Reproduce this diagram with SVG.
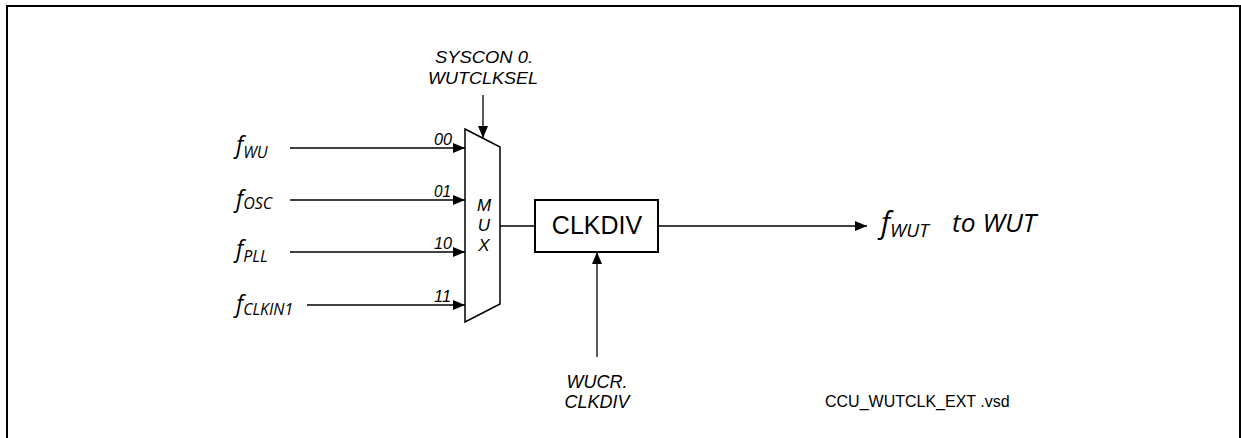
<svg xmlns="http://www.w3.org/2000/svg" width="1241" height="438" viewBox="0 0 1241 438">
<style>
.ln{stroke:#000;stroke-width:1.3;fill:none}
.lab{font-family:"Liberation Sans",Arial,sans-serif;font-style:italic;fill:#000}
.fl{font-family:"Open Sans","Liberation Sans",sans-serif;font-style:italic;fill:#000}
.box{fill:#fff;stroke:#000;stroke-width:2}
</style>
<defs>
<marker id="ah" viewBox="0 0 12 10" refX="12" refY="5" markerWidth="12" markerHeight="10" markerUnits="userSpaceOnUse" orient="auto">
<path d="M0,0 L12,5 L0,10 Z" fill="#000"/>
</marker>
</defs>
<rect width="1241" height="438" fill="#fff"/>
<path d="M7,448 V6 H1240 V448" fill="none" stroke="#000" stroke-width="2"/>

<g id="connectors">
<line class="ln" x1="290" y1="148" x2="465" y2="148" marker-end="url(#ah)"/>
<line class="ln" x1="290" y1="200" x2="465" y2="200" marker-end="url(#ah)"/>
<line class="ln" x1="290" y1="252" x2="465" y2="252" marker-end="url(#ah)"/>
<line class="ln" x1="307" y1="305" x2="465" y2="305" marker-end="url(#ah)"/>
<line class="ln" x1="483" y1="95" x2="483" y2="138" marker-end="url(#ah)"/>
<line class="ln" x1="500" y1="226" x2="535" y2="226"/>
<line class="ln" x1="658" y1="226" x2="867" y2="226" marker-end="url(#ah)"/>
<line class="ln" x1="597" y1="357" x2="597" y2="252" marker-end="url(#ah)"/>
</g>

<g id="inputs">
<text class="fl" x="236" y="153" font-size="23">f<tspan font-size="16" dy="5">WU</tspan></text>
<text class="fl" x="236" y="207" font-size="23">f<tspan font-size="16" dy="2">OSC</tspan></text>
<text class="fl" x="236" y="257" font-size="23">f<tspan font-size="16" dy="5">PLL</tspan></text>
<text class="fl" x="236" y="312" font-size="23">f<tspan font-size="16" dy="3" textLength="50" lengthAdjust="spacingAndGlyphs">CLKIN1</tspan></text>
</g>

<g id="mux">
<polygon class="box" points="465,129 500,147 500,304 465,322" style="stroke-width:1.5"/>
<text class="lab" x="484" y="211" font-size="17" text-anchor="middle">M</text>
<text class="lab" x="484" y="231" font-size="17" text-anchor="middle">U</text>
<text class="lab" x="484" y="251" font-size="17" text-anchor="middle">X</text>
<text class="lab" x="434" y="145" font-size="16" textLength="18" lengthAdjust="spacingAndGlyphs">00</text>
<text class="lab" x="434" y="197" font-size="16" textLength="17" lengthAdjust="spacingAndGlyphs">01</text>
<text class="lab" x="434" y="249" font-size="16" textLength="18" lengthAdjust="spacingAndGlyphs">10</text>
<text class="lab" x="434" y="302" font-size="16" textLength="17" lengthAdjust="spacingAndGlyphs">11</text>
</g>

<g id="syscon">
<text class="lab" x="435" y="63" font-size="16" textLength="98" lengthAdjust="spacingAndGlyphs">SYSCON 0.</text>
<text class="lab" x="428" y="84" font-size="16" textLength="110" lengthAdjust="spacingAndGlyphs">WUTCLKSEL</text>
</g>

<g id="clkdiv">
<rect class="box" x="535" y="200" width="123" height="52"/>
<text x="597" y="234" font-family="Liberation Sans,Arial,sans-serif" font-size="25" text-anchor="middle">CLKDIV</text>
</g>

<g id="wucr">
<text class="lab" x="597" y="388" font-size="18" text-anchor="middle">WUCR.</text>
<text class="lab" x="597" y="408" font-size="18" text-anchor="middle">CLKDIV</text>
</g>

<g id="output">
<text class="fl" x="881" y="233" font-size="29">f<tspan font-size="19" dy="4">WUT</tspan></text>
<text class="fl" x="952" y="232" font-size="26" textLength="84" lengthAdjust="spacingAndGlyphs">to WUT</text>
</g>

<text x="825" y="407" font-family="Liberation Sans,Arial,sans-serif" font-size="16">CCU_WUTCLK_EXT .vsd</text>
</svg>
